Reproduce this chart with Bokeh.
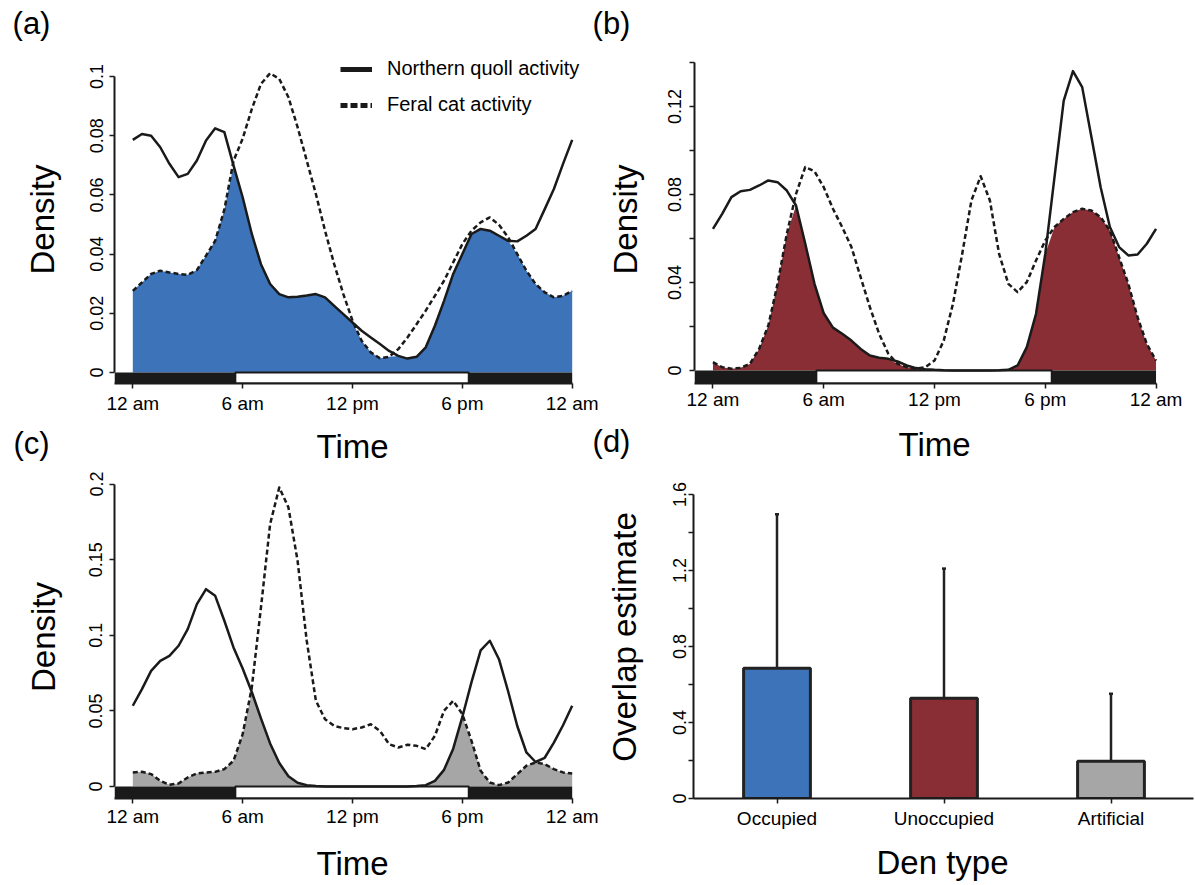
import numpy as np
from bokeh.plotting import figure
from bokeh.models import Range1d, FixedTicker, Label, Legend, LegendItem, Whisker, TeeHead, ColumnDataSource
from bokeh.layouts import column, row
from bokeh.embed import file_html
from bokeh.resources import INLINE

FONT = "Liberation Sans"
INK = "#1a1a1a"

# ---------------- data ----------------
TIME_TICKS = [0, 6, 12, 18, 24]
TIME_LABELS = ["12 am", "6 am", "12 pm", "6 pm", "12 am"]
SUNRISE = 5.6
SUNSET = 18.35

HOURS = [0, 0.5, 1, 1.5, 2, 2.5, 3, 3.5, 4, 4.5, 5, 5.5, 6, 6.5, 7, 7.5, 8, 8.5,
         9, 9.5, 10, 10.5, 11, 11.5, 12, 12.5, 13, 13.5, 14, 14.5, 15, 15.5, 16,
         16.5, 17, 17.5, 18, 18.5, 19, 19.5, 20, 20.5, 21, 21.5, 22, 22.5, 23, 23.5, 24]

QUOLL_A = [0.0786, 0.0806, 0.0800, 0.0761, 0.0705, 0.0660, 0.0671, 0.0716, 0.0784, 0.0825,
           0.0812, 0.0700, 0.0592, 0.0468, 0.0366, 0.0299, 0.0265, 0.0254, 0.0256, 0.0260,
           0.0265, 0.0254, 0.0225, 0.0197, 0.0169, 0.0141, 0.0118, 0.0096, 0.0073, 0.0056,
           0.0047, 0.0053, 0.0085, 0.0158, 0.0242, 0.0333, 0.0400, 0.0468, 0.0485, 0.0479,
           0.0462, 0.0445, 0.0443, 0.0462, 0.0485, 0.0552, 0.0620, 0.0705, 0.0786]
CAT_A = [0.0276, 0.0304, 0.0333, 0.0344, 0.0338, 0.0333, 0.0330, 0.0346, 0.0395, 0.0445,
         0.0550, 0.0715, 0.0790, 0.0890, 0.0975, 0.1011, 0.0992, 0.0930, 0.0829, 0.0716,
         0.0603, 0.0479, 0.0366, 0.0265, 0.0175, 0.0107, 0.0068, 0.0048, 0.0053, 0.0079,
         0.0118, 0.0163, 0.0209, 0.0259, 0.0310, 0.0372, 0.0434, 0.0479, 0.0507, 0.0524,
         0.0499, 0.0457, 0.0400, 0.0344, 0.0299, 0.0271, 0.0254, 0.0259, 0.0276]

QUOLL_B = [0.0644, 0.0712, 0.0788, 0.0815, 0.0821, 0.0841, 0.0864, 0.0856, 0.0818, 0.0750,
           0.0576, 0.0394, 0.0260, 0.0195, 0.0167, 0.0136, 0.0098, 0.0068, 0.0058, 0.0053,
           0.0041, 0.0023, 0.0011, 0.0006, 0.0003, 0.0001, 0.0, 0.0, 0.0, 0.0, 0.0, 0.0001,
           0.0003, 0.0023, 0.0106, 0.0258, 0.0530, 0.0879, 0.1227, 0.1361, 0.1288, 0.1061,
           0.0833, 0.0652, 0.0561, 0.0523, 0.0527, 0.0576, 0.0644]
CAT_B = [0.0038, 0.0015, 0.0008, 0.0012, 0.0030, 0.0098, 0.0205, 0.0394, 0.0621, 0.0803,
         0.0925, 0.0905, 0.0833, 0.0735, 0.0652, 0.0561, 0.0424, 0.0288, 0.0167, 0.0076,
         0.0030, 0.0015, 0.0008, 0.0015, 0.0045, 0.0136, 0.0303, 0.0530, 0.0773, 0.0883,
         0.0773, 0.0530, 0.0394, 0.0356, 0.0402, 0.0500, 0.0591, 0.0652, 0.0689, 0.0720,
         0.0735, 0.0727, 0.0697, 0.0636, 0.0515, 0.0394, 0.0242, 0.0121, 0.0045]

QUOLL_C = [0.0534, 0.0644, 0.0765, 0.0831, 0.0864, 0.0931, 0.1041, 0.1206, 0.1305, 0.1261,
           0.1096, 0.0920, 0.0780, 0.0625, 0.0450, 0.0285, 0.0155, 0.0068, 0.0025, 0.0009,
           0.0003, 0.0, 0.0, 0.0, 0.0, 0.0, 0.0, 0.0, 0.0, 0.0, 0.0, 0.0003,
           0.0009, 0.0037, 0.0110, 0.0250, 0.0460, 0.0690, 0.0900, 0.0964, 0.0842, 0.0630,
           0.0400, 0.0225, 0.0162, 0.0190, 0.0290, 0.0405, 0.0534]
CAT_C = [0.0093, 0.0097, 0.0082, 0.0037, 0.0011, 0.0020, 0.0060, 0.0086, 0.0093, 0.0097,
         0.0115, 0.0170, 0.0346, 0.0655, 0.1184, 0.1735, 0.1978, 0.1846, 0.1493, 0.0964,
         0.0567, 0.0445, 0.0401, 0.0386, 0.0379, 0.0390, 0.0412, 0.0368, 0.0280, 0.0258,
         0.0276, 0.0269, 0.0247, 0.0335, 0.0501, 0.0567, 0.0479, 0.0302, 0.0104, 0.0026,
         0.0009, 0.0026, 0.0082, 0.0137, 0.0159, 0.0148, 0.0115, 0.0093, 0.0086]

Y_TICKS_A = [0, 0.02, 0.04, 0.06, 0.08, 0.1]
Y_LABELS_A = ["0", "0.02", "0.04", "0.06", "0.08", "0.1"]
Y_TICKS_B = [0, 0.02, 0.04, 0.06, 0.08, 0.1, 0.12, 0.14]
Y_LABELS_B = ["0", "", "0.04", "", "0.08", "", "0.12", ""]
Y_TICKS_C = [0, 0.05, 0.1, 0.15, 0.2]
Y_LABELS_C = ["0", "0.05", "0.1", "0.15", "0.2"]

DEN_TYPES = ["Occupied", "Unoccupied", "Artificial"]
OVERLAP = [0.686, 0.528, 0.196]
CI_LOWER = [0.228, 0.333, 0.030]
CI_UPPER = [1.496, 1.210, 0.551]
BAR_COLORS = ["#3D73B9", "#8A2E35", "#A6A6A6"]
Y_TICKS_D = [0, 0.2, 0.4, 0.6, 0.8, 1.0, 1.2, 1.4, 1.6]
Y_LABELS_D = ["0", "", "0.4", "", "0.8", "", "1.2", "", "1.6"]

PANEL_TAGS = ["(a)", "(b)", "(c)", "(d)"]
X_TITLES = ["Time", "Time", "Time", "Den type"]

# ---------------- layout geometry (pixels) ----------------
PAGE_W = 1195
TOP_H, MID_H, BOT_H = 55, 48, 44
# frames inside one row share their top and bottom edges
GA = dict(w=600, h=365, fl=114, fw=476, ft=0, fh=328, y0=-0.003716)
GA["y1"] = GA["y0"] + GA["fh"] / 2960.0
GB = dict(w=595, h=365, fl=94, fw=480, ft=0, fh=328, y0=-0.005909)
GB["y1"] = GB["y0"] + GB["fh"] / 2200.0
GC = dict(w=600, h=372, fl=114, fw=476, ft=7, fh=323, y0=-0.007937)
GC["y1"] = GC["y0"] + GC["fh"] / 1512.0
GD = dict(w=595, h=372, fl=93, fw=500, ft=7, fh=323, y0=0.0)
GD["y1"] = GD["fh"] / 190.0
X0, X1 = -1, 25


def base_fig(g, x_range, ylabel):
    p = figure(width=g["w"], height=g["h"], x_range=x_range,
               y_range=Range1d(g["y0"], g["y1"]), title=None,
               output_backend="svg", toolbar_location=None,
               min_border_left=g["fl"], min_border_right=g["w"] - g["fl"] - g["fw"],
               min_border_top=g["ft"], min_border_bottom=g["h"] - g["ft"] - g["fh"],
               y_axis_label=ylabel)
    p.outline_line_color = None
    p.xgrid.visible = False
    p.ygrid.visible = False
    p.background_fill_color = "white"
    p.border_fill_color = "white"
    for ax in (p.xaxis[0], p.yaxis[0]):
        ax.axis_line_color = INK
        ax.axis_line_width = 2
        ax.major_tick_line_color = INK
        ax.major_tick_line_width = 1.5
        ax.major_tick_out = 5
        ax.major_tick_in = 0
        ax.minor_tick_line_color = None
        ax.axis_label_text_font = FONT
        ax.axis_label_text_font_style = "normal"
        ax.axis_label_text_font_size = "33px"
        ax.axis_label_text_color = "black"
        ax.major_label_text_font = FONT
        ax.major_label_text_color = "black"
    p.xaxis.major_label_text_font_size = "19px"
    p.yaxis.major_label_text_font_size = "18px"
    p.yaxis.major_label_orientation = "vertical"
    return p


def density_panel(g, hours, quoll, cat, fill_color, yticks, ylabels, std):
    p = base_fig(g, Range1d(X0, X1), "Density")
    h = np.array(hours)
    q = np.array(quoll)
    c = np.array(cat)
    p.varea(x=h, y1=np.zeros_like(q), y2=np.minimum(q, c), fill_color=fill_color)
    # day / night bar below the zero line
    p.quad(left=[X0], right=[24], bottom=[g["y0"]], top=[0], fill_color=INK, line_color=None)
    p.quad(left=[SUNRISE], right=[SUNSET], bottom=[g["y0"]], top=[0], fill_color="white",
           line_color=INK, line_width=2)
    p.line(h, q, line_color=INK, line_width=2.5, line_join="round")
    p.line(h, c, line_color=INK, line_width=2.5, line_dash="5 3", line_join="round")
    p.xaxis.ticker = FixedTicker(ticks=TIME_TICKS)
    p.xaxis.major_label_overrides = dict(zip(TIME_TICKS, TIME_LABELS))
    p.xaxis.bounds = (X0, 24)
    p.yaxis.ticker = FixedTicker(ticks=yticks)
    p.yaxis.major_label_overrides = dict(zip(yticks, ylabels))
    p.yaxis.bounds = (0, yticks[-1])
    p.yaxis.major_label_standoff = std[0]
    p.yaxis.axis_label_standoff = std[1]
    p.xaxis.major_label_standoff = std[2]
    return p


def strip(height):
    s = figure(width=PAGE_W, height=height, x_range=Range1d(0, PAGE_W),
               y_range=Range1d(0, height), title=None, x_axis_type=None, y_axis_type=None,
               min_border=0, output_backend="svg", toolbar_location=None)
    s.outline_line_color = None
    s.background_fill_color = "white"
    s.border_fill_color = "white"
    return s


def strip_text(s, height, text, x, baseline_from_top, size_px, align="center"):
    # empirical correction of the label anchor (about 0.39 em) so that the
    # glyph baseline lands on baseline_from_top
    y = height - (baseline_from_top - 0.39 * size_px)
    s.add_layout(Label(x=x, y=y, text=text, text_font=FONT,
                       text_font_size="%dpx" % size_px, text_align=align,
                       text_baseline="alphabetic", text_color="black"))


pa = density_panel(GA, HOURS, QUOLL_A, CAT_A, "#3D73B9", Y_TICKS_A, Y_LABELS_A, (6, 27, 4))
pb = density_panel(GB, HOURS, QUOLL_B, CAT_B, "#8A2E35", Y_TICKS_B, Y_LABELS_B, (8, 22, 0))
pc = density_panel(GC, HOURS, QUOLL_C, CAT_C, "#A6A6A6", Y_TICKS_C, Y_LABELS_C, (7, 25, 2))

# legend in panel (a)
r_q = pa.line([-10, -9], [-1, -1], line_color=INK, line_width=5)
r_c = pa.line([-10, -9], [-1, -1], line_color=INK, line_width=5, line_dash="7 3")
legend = Legend(items=[LegendItem(label="Northern quoll activity", renderers=[r_q]),
                       LegendItem(label="Feral cat activity", renderers=[r_c])],
                location=(226, 267), glyph_width=32, glyph_height=20, label_height=20,
                label_standoff=15, spacing=13, padding=0, margin=0,
                border_line_color=None, background_fill_alpha=0,
                label_text_font=FONT, label_text_font_size="20px", label_text_color="black")
pa.add_layout(legend)

# ---------------- panel (d): bar chart ----------------
XD1 = GD["fw"] / 167.0
pd = base_fig(GD, Range1d(0, XD1), "Overlap estimate")
xpos = [i + 0.5 for i in range(len(DEN_TYPES))]
src = ColumnDataSource(dict(x=xpos, top=OVERLAP, lo=CI_LOWER, hi=CI_UPPER, color=BAR_COLORS))
pd.vbar(x="x", top="top", bottom=0, width=0.4, fill_color="color", line_color="#222222",
        line_width=3, source=src)
pd.add_layout(Whisker(base="x", upper="hi", lower="lo", source=src, line_color="#222222",
                      line_width=2.5,
                      upper_head=TeeHead(size=4, line_color="#222222", line_width=2.5),
                      lower_head=TeeHead(size=4, line_color="#222222", line_width=2.5)))
pd.xaxis.ticker = FixedTicker(ticks=xpos)
pd.xaxis.major_label_overrides = dict(zip(xpos, DEN_TYPES))
pd.yaxis.ticker = FixedTicker(ticks=Y_TICKS_D)
pd.yaxis.major_label_overrides = dict(zip(Y_TICKS_D, Y_LABELS_D))
pd.yaxis.bounds = (0, 1.6)
pd.yaxis.major_label_standoff = 3
pd.yaxis.axis_label_standoff = 27
pd.xaxis.major_label_standoff = 4

# ---------------- text strips (panel tags and x-axis titles) ----------------
top = strip(TOP_H)
strip_text(top, TOP_H, PANEL_TAGS[0], 31, 35.5, 31)
strip_text(top, TOP_H, PANEL_TAGS[1], 611, 35.5, 31)

mid = strip(MID_H)            # page rows 420 .. 468
strip_text(mid, MID_H, X_TITLES[0], 352, 38.5, 33)
strip_text(mid, MID_H, PANEL_TAGS[2], 31, 35, 31)
strip_text(mid, MID_H, PANEL_TAGS[3], 611, 33.5, 31)
strip_text(mid, MID_H, X_TITLES[1], 934, 36.6, 33)

bot = strip(BOT_H)            # page rows 840 .. 884
strip_text(bot, BOT_H, X_TITLES[2], 352, 36, 33)
strip_text(bot, BOT_H, X_TITLES[3], 942, 35, 33)

layout = column(top, row(pa, pb), mid, row(pc, pd), bot)
open("out.html", "w").write(file_html(layout, INLINE))
